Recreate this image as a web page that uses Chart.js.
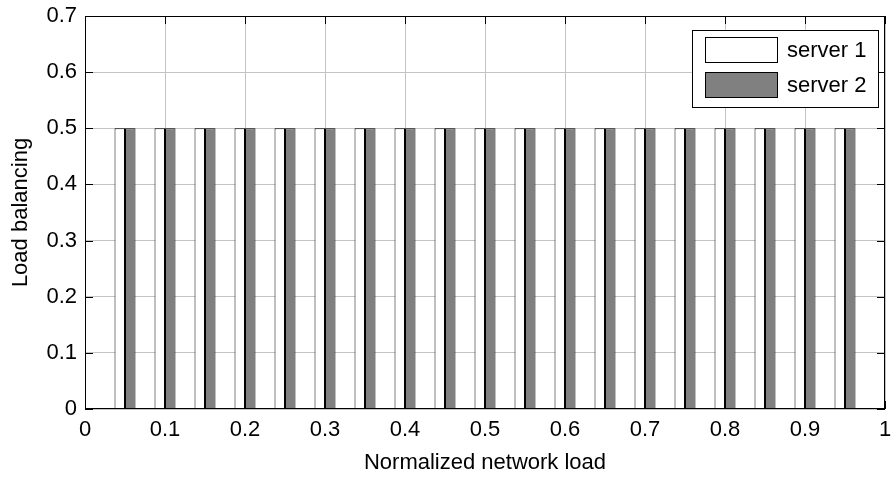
<!DOCTYPE html>
<html>
<head>
<meta charset="utf-8">
<script src="https://cdn.jsdelivr.net/npm/chart.js@4.4.1/dist/chart.umd.min.js"></script>
<style>
  body { margin: 0; background: #fff; }
  #wrap { width: 893px; height: 480px; }
</style>
</head>
<body>
<div id="wrap"><canvas id="chart"></canvas></div>
<script>
// normalized network load (x positions of the bar groups)
const loads = [0.05, 0.10, 0.15, 0.20, 0.25, 0.30, 0.35, 0.40, 0.45, 0.50,
               0.55, 0.60, 0.65, 0.70, 0.75, 0.80, 0.85, 0.90, 0.95];
// load balancing share per server
const server1 = [0.5, 0.5, 0.5, 0.5, 0.5, 0.5, 0.5, 0.5, 0.5, 0.5,
                 0.5, 0.5, 0.5, 0.5, 0.5, 0.5, 0.5, 0.5, 0.5];
const server2 = [0.5, 0.5, 0.5, 0.5, 0.5, 0.5, 0.5, 0.5, 0.5, 0.5,
                 0.5, 0.5, 0.5, 0.5, 0.5, 0.5, 0.5, 0.5, 0.5];
const seriesNames = ['server 1', 'server 2'];
const xRange = [0, 1];
const yRange = [0, 0.7];

const FONT = '"Liberation Sans", Arial, Helvetica, sans-serif';
const fmt = v => String(Number(v.toFixed(2)));

// matlab style box with inward ticks on all four sides + legend box
const matlabAxes = {
  id: 'matlabAxes',
  afterDatasetsDraw(chart) {
    const {ctx, chartArea: a, scales: {x, y}} = chart;
    const len = 8;
    ctx.save();
    ctx.strokeStyle = '#000';
    ctx.lineWidth = 1;
    ctx.beginPath();
    x.ticks.forEach(t => {
      const px = Math.round(x.getPixelForValue(t.value)) + 0.5;
      ctx.moveTo(px, a.bottom); ctx.lineTo(px, a.bottom - len);
      ctx.moveTo(px, a.top); ctx.lineTo(px, a.top + len);
    });
    y.ticks.forEach(t => {
      const py = Math.round(y.getPixelForValue(t.value)) + 0.5;
      ctx.moveTo(a.left, py); ctx.lineTo(a.left + len, py);
      ctx.moveTo(a.right, py); ctx.lineTo(a.right - len, py);
    });
    ctx.stroke();
    ctx.strokeRect(a.left + 0.5, a.top + 0.5, a.width - 1, a.height - 1);
    ctx.restore();
  },
  afterDraw(chart) {
    const {ctx, chartArea: a} = chart;
    const bx = a.right - 193, by = a.top + 14, bw = 186, bh = 77;
    ctx.save();
    ctx.fillStyle = '#fff';
    ctx.fillRect(bx, by, bw, bh);
    ctx.strokeStyle = '#000';
    ctx.lineWidth = 1;
    ctx.strokeRect(bx + 0.5, by + 0.5, bw, bh);
    ctx.font = '22px ' + FONT;
    ctx.textBaseline = 'middle';
    ctx.textAlign = 'left';
    chart.data.datasets.forEach((ds, i) => {
      const sy = by + 7 + i * 35;
      ctx.fillStyle = ds.backgroundColor;
      ctx.fillRect(bx + 13, sy, 73, 26);
      ctx.strokeStyle = '#000';
      ctx.strokeRect(bx + 13.5, sy + 0.5, 72, 25);
      ctx.fillStyle = '#000';
      ctx.fillText(ds.label, bx + 95, sy + 14);
    });
    ctx.restore();
  }
};

new Chart(document.getElementById('chart'), {
  type: 'bar',
  data: {
    datasets: [
      {
        label: seriesNames[0],
        data: loads.map((v, i) => ({x: v, y: server1[i]})),
        backgroundColor: '#ffffff',
        borderColor: '#000000',
        borderWidth: 1
      },
      {
        label: seriesNames[1],
        data: loads.map((v, i) => ({x: v, y: server2[i]})),
        backgroundColor: '#808080',
        borderColor: '#000000',
        borderWidth: 1
      }
    ]
  },
  options: {
    responsive: true,
    maintainAspectRatio: false,
    animation: false,
    categoryPercentage: 0.525,
    barPercentage: 1,
    layout: { padding: { top: 16, right: 8, left: 0, bottom: 0 } },
    plugins: {
      legend: { display: false },
      tooltip: { enabled: false }
    },
    scales: {
      x: {
        type: 'linear',
        offset: false,
        min: xRange[0],
        max: xRange[1],
        grid: { color: '#c4c4c4', drawTicks: false, offset: false },
        border: { display: false },
        ticks: { stepSize: 0.1, color: '#000', padding: 8, maxRotation: 0,
                 callback: fmt, font: { family: FONT, size: 22 } },
        title: { display: true, text: 'Normalized network load', color: '#000',
                 padding: { top: 0, bottom: 4 }, font: { family: FONT, size: 22 } },
        afterFit: s => { s.height = 71; s.paddingLeft = 0; s.paddingRight = 0; }
      },
      y: {
        min: yRange[0],
        max: yRange[1],
        grid: { color: '#c4c4c4', drawTicks: false },
        border: { display: false },
        ticks: { stepSize: 0.1, color: '#000', padding: 8,
                 callback: fmt, font: { family: FONT, size: 22 } },
        title: { display: true, text: 'Load balancing', color: '#000',
                 padding: { top: 8, bottom: 0 }, font: { family: FONT, size: 22 } },
        afterFit: s => { s.width = 85; s.paddingTop = 0; s.paddingBottom = 0; }
      }
    }
  },
  plugins: [matlabAxes]
});
</script>
</body>
</html>
